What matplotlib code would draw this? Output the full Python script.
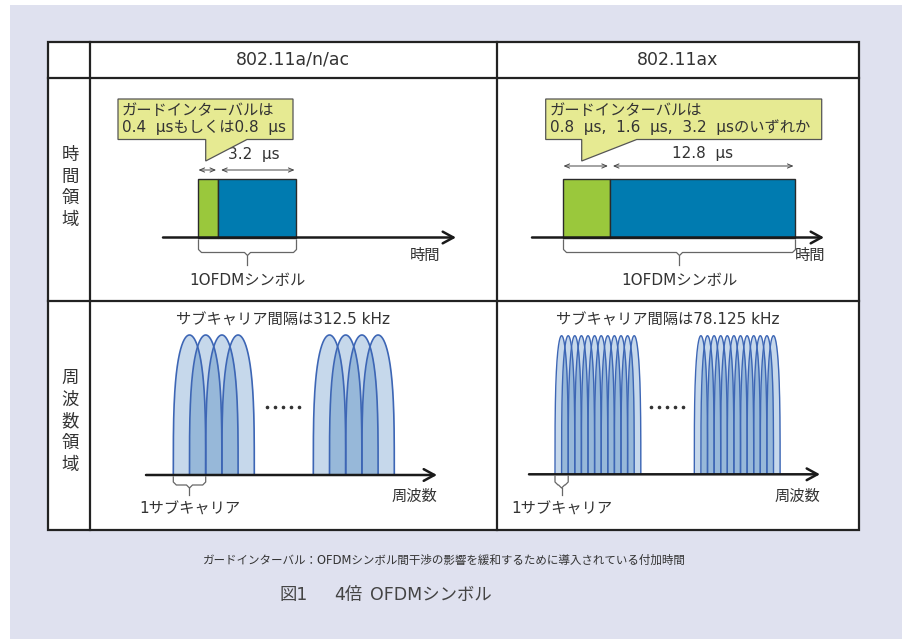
import numpy as np
import matplotlib.pyplot as plt
from matplotlib.patches import Rectangle, Polygon

# Latin glyphs from DejaVu (wider, like the original), kana/kanji from Noto CJK
plt.rcParams['font.family'] = ['DejaVu Sans', 'Noto Sans CJK JP']

W, H = 903, 639

# --- content
standards = ['802.11a/n/ac', '802.11ax']
guard_us = [0.8, 3.2]
symbol_us = [3.2, 12.8]
guard_note = ['0.4  μsもしくは0.8  μs', '0.8  μs,  1.6  μs,  3.2  μsのいずれか']
spacing_khz = [312.5, 78.125]
lobes_per_group = [4, 12]
row_labels = ['時間領域', '周波数領域']
note = 'ガードインターバル：OFDMシンボル間干渉の影響を緩和するために導入されている付加時間'

# --- layout (pixels, not data)
col_center = [293, 678]
sym_start = [198.5, 563.5]
px_per_us = [24.5, 14.5]
axis_span = [(163, 456), (532, 824)]
callout = [dict(x0=118, x1=293, xa=205.7, xb=247), dict(x0=545.7, x1=821.7, xa=581.7, xb=636.7)]
grp_start = [[173.3, 313.3], [555.0, 694.3]]
px_per_khz = [16.2 / 312.5, 6.6 / 78.125]
faxis_span = [(146, 437), (529, 820)]
TXT = '#333333'
FS = 11

fig = plt.figure(figsize=(W / 100, H / 100), dpi=100)
ax = fig.add_axes([0, 0, 1, 1])
ax.set_xlim(0, W)
ax.set_ylim(H, 0)
ax.axis('off')

# background + table
ax.add_patch(Rectangle((10, 5), W - 10, H - 5, fc='#dfe1ef', ec='none', zorder=0))
ax.add_patch(Rectangle((48, 42), 811, 488, fc='white', ec='none', zorder=0.5))
ax.add_patch(Rectangle((48, 42), 811, 488, fc='none', ec='#222222', lw=1.6, zorder=5))
for x in [90, 497]:
    ax.plot([x, x], [42, 530], color='#222222', lw=1.6, zorder=5)
for y in [78, 301]:
    ax.plot([48, 859], [y, y], color='#222222', lw=1.6, zorder=5)

for i, s in enumerate(standards):
    ax.text(col_center[i], 60, s, ha='center', va='center', fontsize=12.5, color=TXT)

for lab, yc in zip(row_labels, [187.5, 421.5]):
    n = len(lab)
    for k, ch in enumerate(lab):
        ax.text(70.5, yc + (k - (n - 1) / 2) * 21.6, ch, ha='center', va='center',
                fontsize=12.5, color=TXT)


def brace(x0, x1, top, bot, tip, r=3):
    xc = (x0 + x1) / 2
    xs = [x0, x0, x0 + r, xc - r, xc, xc + r, x1 - r, x1, x1]
    ys = [top, bot - r, bot, bot, bot + r, bot, bot, bot - r, top]
    ax.plot(xs, ys, color='#666666', lw=0.9)
    ax.plot([xc, xc], [bot + r, tip], color='#666666', lw=0.9)
    return xc


# --- time domain
for i in range(2):
    t0 = sym_start[i]
    g = guard_us[i] * px_per_us[i]
    s = symbol_us[i] * px_per_us[i]
    top, base = 178.5, 237.5
    ax.add_patch(Rectangle((t0, top), g, base - top, fc='#9ac83c', ec='#2a2a2a', lw=1.0, zorder=3))
    ax.add_patch(Rectangle((t0 + g, top), s, base - top, fc='#007bb0', ec='#2a2a2a', lw=1.0, zorder=3))
    ax.annotate('', xy=(axis_span[i][1], base), xytext=(axis_span[i][0], base),
                arrowprops=dict(arrowstyle='->, head_length=0.55, head_width=0.3', lw=1.8,
                                color='#1a1a1a', shrinkA=0, shrinkB=0, mutation_scale=14), zorder=4)
    ya = 170 if i == 0 else 166
    arr = dict(arrowstyle='<->, head_length=0.35, head_width=0.15', lw=0.7, color='#444444',
               shrinkA=0, shrinkB=0)
    ax.annotate('', xy=(t0 + g - 2, ya), xytext=(t0, ya), arrowprops=arr)
    ax.annotate('', xy=(t0 + g + s - 2, ya), xytext=(t0 + g + 3, ya), arrowprops=arr)
    lab = '%g  μs' % symbol_us[i]
    ax.text(t0 + g + s / 2 + (-3 if i == 0 else 0), 155 if i == 0 else 153.5, lab,
            ha='center', va='center', fontsize=FS, color=TXT)
    xc = brace(t0, t0 + g + s, 240, 252.5, 265)
    ax.text(xc, 280, '1OFDMシンボル', ha='center', va='center', fontsize=FS, color=TXT)
    tx = 425 if i == 0 else 810
    ax.text(tx, 255, '時間', ha='center', va='center', fontsize=FS, color=TXT)

    c = callout[i]
    y0, y1, yp = 99, 139.5, 161
    pts = [(c['x0'], y0), (c['x1'], y0), (c['x1'], y1), (c['xb'], y1), (c['xa'], yp),
           (c['xa'], y1), (c['x0'], y1)]
    ax.add_patch(Polygon(pts, closed=True, fc='#e6ea92', ec='#555555', lw=0.9, zorder=3))
    ax.text(c['x0'] + 4, 111, 'ガードインターバルは', ha='left', va='center', fontsize=FS,
            color=TXT, zorder=4)
    ax.text(c['x0'] + 4, 127.5, guard_note[i], ha='left', va='center', fontsize=FS,
            color=TXT, zorder=4)


# --- frequency domain
LOBE_P = 0.3


def lobe(c, a, hgt, x):
    u = np.clip(1 - ((x - c) / a) ** 2, 0, None)
    return hgt * u ** LOBE_P


for i in range(2):
    sp = spacing_khz[i] * px_per_khz[i]
    base = 475 if i == 0 else 474.3
    hgt = 140 if i == 0 else 138.6
    for g0 in grp_start[i]:
        centers = g0 + sp * (np.arange(lobes_per_group[i]) + 1)
        for c in centers:
            x = np.linspace(c - sp, c + sp, 400)
            ax.fill_between(x, base, base - lobe(c, sp, hgt, x), color='#c6d8eb', lw=0, zorder=2)
        for c1, c2 in zip(centers[:-1], centers[1:]):
            x = np.linspace(c1, c2, 400)
            h = np.minimum(lobe(c1, sp, hgt, x), lobe(c2, sp, hgt, x))
            ax.fill_between(x, base, base - h, color='#97b8d9', lw=0, zorder=2)
        for c in centers:
            th = np.linspace(-np.pi / 2, np.pi / 2, 300)
            ax.plot(c + sp * np.sin(th), base - hgt * np.cos(th) ** (2 * LOBE_P), color='#3d66b5',
                    lw=1.2 if i == 0 else 1.0, zorder=3)
    ax.annotate('', xy=(faxis_span[i][1], base), xytext=(faxis_span[i][0], base),
                arrowprops=dict(arrowstyle='->, head_length=0.55, head_width=0.3', lw=1.8,
                                color='#1a1a1a', shrinkA=0, shrinkB=0, mutation_scale=14), zorder=4)
    g0 = grp_start[i][0]
    xc = brace(g0, g0 + 2 * sp, base + 2, 485, 495)
    ax.text(xc, 509, '1サブキャリア', ha='center', va='center', fontsize=FS, color=TXT)
    ax.text(414 if i == 0 else 797.5, 496.5, '周波数', ha='center', va='center', fontsize=FS,
            color=TXT)
    ax.text(col_center[i] - 10, 320, 'サブキャリア間隔は%g kHz' % spacing_khz[i], ha='center',
            va='center', fontsize=FS, color=TXT)
    dc = 283 if i == 0 else 666.7
    ax.plot(dc + 8 * (np.arange(5) - 2), [407] * 5, ls='none', marker='o', ms=1.6,
            color='#333333')

# --- caption
ax.text(203, 560, note, ha='left', va='center', fontsize=8.3, color=TXT)
ax.text(280, 595, '図1', ha='left', va='center', fontsize=12.5, color='#444444')
ax.text(334, 595, '4倍', ha='left', va='center', fontsize=12.5, color='#444444')
ax.text(370, 595, 'OFDMシンボル', ha='left', va='center', fontsize=12.5, color='#444444')

fig.savefig('out.png', dpi=100)
